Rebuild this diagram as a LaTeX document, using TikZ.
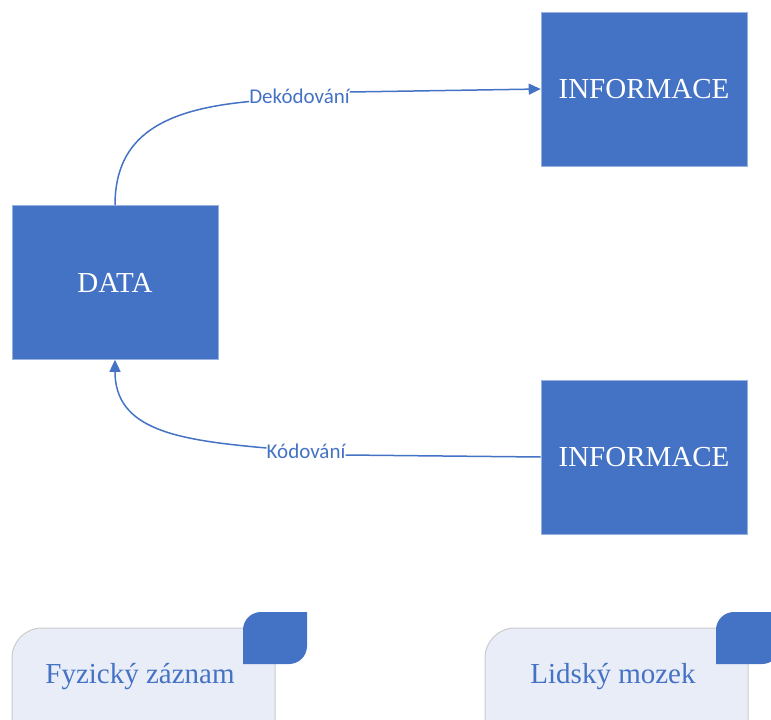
\documentclass[tikz,border=0pt]{standalone}
\usepackage{fontspec}
\setmainfont{Liberation Serif}
\newfontfamily\popisfont{Carlito}
\usetikzlibrary{positioning,arrows.meta}
\definecolor{modra}{HTML}{4472C4}
\definecolor{svetla}{HTML}{E9EDF7}
\definecolor{seda}{HTML}{CBCBCB}

\begin{document}
\begin{tikzpicture}[x=1pt,y=-1pt,
		blok/.style={fill=modra,draw=modra!55!white,line width=0.6pt,minimum width=206pt,minimum height=154pt,inner sep=0pt,text=white,font=\fontsize{29}{32}\selectfont},
		popis/.style={inner sep=0pt,text=modra,font=\popisfont\fontsize{21}{24}\selectfont},
		spoj/.style={draw=modra,line width=1.5pt},
		panel/.style={fill=svetla,draw=seda,line width=1pt},
		stitek/.style={inner sep=0pt,text=modra,font=\fontsize{29}{32}\selectfont}]
			\useasboundingbox (0,0) rectangle (771,720);
			\clip (0,0) rectangle (771,720);
			\node[blok] (data) at (115,282.5) {DATA};
			\node[blok] (infoA) at (644,89) {INFORMACE};
			\node[blok] (infoB) at (644,457) {INFORMACE};
			\node[popis] (dek) at (299.5,96) {Dekódování};
			\node[popis] (kod) at (306,451) {Kódování};
			\draw[spoj] (data.north) .. controls +(0,-70) and +(-85,8) .. ([yshift=2pt]dek.south west);
			\draw[spoj,-{Triangle[length=12pt,width=11pt]}] ([yshift=4pt]dek.east) -- (infoA.west);
			\draw[spoj] (infoB.west) -- ([yshift=-4pt]kod.east);
			\draw[spoj,-{Triangle[length=12pt,width=11pt]}] ([yshift=3pt]kod.west) .. controls +(-90,-8) and +(0,70) .. (data.south);
			\filldraw[panel,rounded corners=30pt] (12,628) rectangle (275,790);
			\fill[modra] (243,664) -- (243,630) arc[start angle=180,end angle=270,radius=18] -- (307,612) -- (307,646) arc[start angle=0,end angle=90,radius=18] -- cycle;
			\node[stitek] (fyz) at (140,677) {Fyzický záznam};
			\filldraw[panel,rounded corners=30pt] (485,628) rectangle (748,790);
			\fill[modra] (716,664) -- (716,630) arc[start angle=180,end angle=270,radius=18] -- (780,612) -- (780,646) arc[start angle=0,end angle=90,radius=18] -- cycle;
			\node[stitek] (mozek) at (613,677) {Lidský mozek};
		\end{tikzpicture}
\end{document}
